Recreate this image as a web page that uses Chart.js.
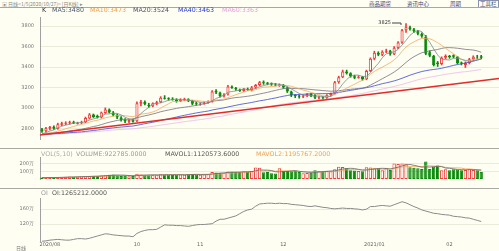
<!DOCTYPE html>
<html>
<head>
<meta charset="utf-8">
<script src="https://cdn.jsdelivr.net/npm/chart.js@4.4.1/dist/chart.umd.min.js"></script>
<style>
  body { margin: 0; width: 499px; height: 251px; overflow: hidden; position: relative; background: #fefef2; font-family: "DejaVu Sans", sans-serif; }
  canvas { position: absolute; left: 0; }
  .t { position: absolute; white-space: nowrap; }
  .lg { font-size: 6.3px; line-height: 7px; }
  .hr { position: absolute; left: 0; width: 499px; height: 1px; background: #a8a8a0; }
  .menu { position: absolute; top: 1px; font-size: 5.5px; line-height: 6px; color: #3c4a78; font-family: "Noto Sans CJK SC", sans-serif; }
</style>
</head>
<body>
<div class="t" style="left:2px;top:1px;font-size:5px;line-height:5px;color:#888;font-family:'Noto Sans CJK SC',sans-serif">▣ 日线&lt;1/5(2020/10/27)&gt; [日K线] ▸</div>
<div class="menu" style="left:369px">商品期货</div>
<div class="menu" style="left:407px">资讯中心</div>
<div class="menu" style="left:450px">周期</div>
<div class="menu" style="left:478px;top:0;border:1px solid #8890b0;padding:0 1px">工具栏</div>
<div class="hr" style="top:7px"></div>

<canvas id="kChart" width="499" height="140" style="top:8px"></canvas>
<canvas id="volChart" width="499" height="40" style="top:148px"></canvas>
<canvas id="oiChart" width="499" height="62" style="top:189px"></canvas>

<div class="hr" style="top:148px"></div>
<div class="hr" style="top:188px"></div>

<div class="t lg" style="left:42px;top:6px;color:#333">K</div>
<div class="t lg" style="left:52px;top:6px;color:#4b5a6b">MA5:3480</div>
<div class="t lg" style="left:90px;top:6px;color:#f0a050">MA10:3473</div>
<div class="t lg" style="left:133px;top:6px;color:#5a4a6a">MA20:3524</div>
<div class="t lg" style="left:178px;top:6px;color:#2a3ad0">MA40:3463</div>
<div class="t lg" style="left:222px;top:6px;color:#e8a0dc">MA60:3363</div>

<div class="t lg" style="left:41px;top:150px;color:#aaa">VOL(5,10)</div>
<div class="t lg" style="left:76px;top:150px;color:#999">VOLUME:922785.0000</div>
<div class="t lg" style="left:165px;top:150px;color:#555">MAVOL1:1120573.6000</div>
<div class="t lg" style="left:256px;top:150px;color:#f0a050">MAVOL2:1195767.2000</div>

<div class="t lg" style="left:41px;top:189px;color:#999">OI</div>
<div class="t lg" style="left:52px;top:189px;color:#555">OI:1265212.0000</div>

<div class="t" style="left:16px;top:245px;font-size:5px;line-height:6px;color:#777;font-family:'Noto Sans CJK SC',sans-serif">日线</div>

<script>
// daily candles, oldest first
const opens = [
  2790,2770,2795,2815,2795,2835,2845,2850,2860,2845,
  2855,2860,2895,2935,2920,2905,2950,2985,2955,2930,
  2905,2880,2865,2880,2870,3040,3060,3030,3015,3040,
  3055,3100,3095,3090,3080,3065,3075,3085,3070,3045,
  3035,3040,3050,3060,3165,3150,3115,3130,3210,3195,
  3180,3165,3185,3175,3200,3225,3250,3245,3240,3230,
  3215,3225,3200,3160,3125,3120,3110,3120,3135,3125,
  3095,3105,3095,3125,3140,3250,3300,3355,3340,3310,
  3295,3305,3280,3360,3480,3540,3520,3550,3560,3525,
  3590,3640,3760,3790,3770,3750,3725,3700,3545,3510,
  3445,3430,3490,3510,3515,3500,3445,3420,3440,3475,
  3500,3505
];
const highs = [
  2800,2810,2820,2825,2850,2860,2865,2870,2870,2860,
  2870,2910,2945,2940,2930,2960,3000,2990,2965,2940,
  2915,2895,2885,2890,3060,3075,3070,3045,3050,3065,
  3110,3120,3100,3100,3090,3090,3095,3090,3075,3055,
  3050,3060,3070,3170,3180,3155,3140,3220,3215,3200,
  3185,3190,3195,3210,3230,3260,3265,3250,3245,3240,
  3235,3230,3205,3165,3130,3125,3125,3140,3140,3130,
  3115,3110,3130,3145,3260,3310,3370,3370,3345,3320,
  3315,3310,3370,3490,3555,3550,3560,3575,3565,3600,
  3650,3770,3825,3800,3780,3760,3735,3710,3560,3515,
  3455,3500,3520,3515,3520,3505,3450,3450,3485,3510,
  3515,3515
];
const lows = [
  2760,2765,2785,2790,2790,2825,2835,2840,2845,2840,
  2845,2855,2890,2905,2900,2900,2945,2950,2920,2895,
  2870,2855,2855,2860,2865,3020,3030,3005,3010,3030,
  3050,3085,3075,3075,3055,3060,3070,3060,3030,3025,
  3025,3035,3045,3055,3140,3105,3105,3125,3190,3170,
  3160,3160,3170,3165,3190,3215,3230,3225,3220,3215,
  3210,3190,3150,3110,3100,3095,3100,3110,3110,3090,
  3085,3085,3090,3115,3135,3240,3295,3330,3300,3285,
  3290,3270,3275,3355,3470,3510,3510,3540,3515,3520,
  3580,3630,3740,3760,3740,3715,3690,3520,3500,3410,
  3405,3420,3480,3485,3490,3430,3420,3395,3430,3465,
  3480,3480
];
const closes = [
  2770,2800,2815,2795,2840,2850,2855,2860,2850,2855,
  2860,2900,2935,2910,2905,2955,2985,2955,2930,2905,
  2880,2870,2880,2865,3045,3060,3035,3015,3045,3055,
  3100,3090,3085,3080,3065,3080,3085,3070,3040,3035,
  3040,3050,3060,3160,3150,3115,3130,3210,3195,3180,
  3165,3185,3175,3200,3225,3250,3240,3235,3230,3220,
  3225,3200,3160,3120,3115,3110,3120,3135,3115,3100,
  3105,3095,3125,3140,3250,3300,3355,3340,3310,3295,
  3305,3280,3360,3480,3540,3520,3550,3560,3525,3590,
  3640,3760,3790,3770,3750,3725,3700,3530,3510,3420,
  3430,3490,3510,3495,3500,3440,3435,3440,3475,3500,
  3495,3490
];

const ma5 = [
  2746,2758,2773,2784,2804,2820,2831,2840,2851,2854,
  2856,2865,2880,2892,2902,2921,2938,2942,2946,2946,
  2931,2908,2893,2880,2908,2944,2977,3004,3040,3042,
  3050,3061,3075,3082,3084,3080,3079,3076,3068,3062,
  3054,3047,3045,3069,3092,3107,3123,3153,3160,3166,
  3176,3187,3180,3181,3190,3207,3218,3230,3236,3235,
  3230,3222,3207,3185,3164,3141,3125,3120,3119,3116,
  3115,3110,3108,3113,3143,3182,3234,3277,3311,3320,
  3321,3306,3310,3344,3393,3436,3490,3530,3539,3549,
  3573,3615,3661,3710,3742,3759,3747,3695,3643,3577,
  3518,3476,3472,3469,3485,3487,3476,3462,3458,3458,
  3469,3480
];
const ma10 = [
  2743,2749,2757,2762,2772,2783,2795,2807,2818,2829,
  2838,2848,2860,2872,2878,2889,2902,2911,2919,2924,
  2926,2923,2918,2913,2927,2938,2943,2949,2960,2975,
  2997,3019,3040,3061,3063,3065,3070,3076,3075,3073,
  3067,3063,3061,3069,3077,3081,3085,3099,3115,3129,
  3142,3155,3167,3171,3178,3192,3203,3205,3209,3213,
  3219,3220,3219,3211,3200,3186,3174,3164,3152,3140,
  3128,3118,3114,3116,3130,3149,3172,3193,3212,3232,
  3252,3270,3294,3328,3357,3379,3398,3420,3442,3471,
  3505,3553,3596,3625,3646,3666,3681,3678,3677,3660,
  3639,3612,3584,3556,3531,3503,3476,3467,3464,3472,
  3478,3478
];
const ma20 = [
  2742,2745,2748,2751,2756,2762,2767,2773,2779,2785,
  2791,2799,2808,2817,2825,2836,2848,2859,2868,2877,
  2882,2886,2889,2892,2903,2913,2922,2930,2940,2950,
  2962,2971,2979,2987,2995,3001,3006,3012,3018,3024,
  3032,3041,3050,3065,3070,3073,3078,3087,3095,3101,
  3104,3109,3114,3120,3128,3136,3144,3152,3162,3171,
  3180,3188,3193,3191,3189,3189,3188,3184,3180,3176,
  3173,3169,3166,3163,3165,3167,3173,3178,3182,3186,
  3190,3194,3204,3222,3243,3264,3285,3306,3327,3351,
  3378,3411,3445,3476,3501,3522,3540,3549,3559,3565,
  3572,3582,3590,3590,3588,3584,3579,3573,3570,3566,
  3558,3545
];
const ma40 = [
  2741,2742,2744,2746,2748,2751,2754,2757,2759,2762,
  2765,2769,2774,2778,2783,2788,2794,2799,2804,2808,
  2812,2815,2819,2822,2829,2837,2845,2852,2859,2867,
  2876,2885,2893,2902,2910,2919,2927,2935,2943,2950,
  2957,2963,2969,2979,2986,2993,3000,3009,3017,3025,
  3033,3040,3046,3053,3061,3069,3075,3082,3090,3097,
  3106,3114,3121,3128,3129,3131,3133,3136,3138,3139,
  3139,3139,3140,3141,3146,3152,3158,3165,3172,3178,
  3185,3191,3198,3206,3216,3226,3237,3245,3254,3264,
  3276,3290,3305,3320,3333,3345,3356,3364,3371,3376,
  3381,3388,3397,3406,3416,3424,3432,3439,3448,3458,
  3468,3478
];
const ma60 = [
  2741,2742,2743,2744,2745,2747,2749,2751,2753,2755,
  2757,2760,2763,2766,2768,2772,2776,2780,2783,2786,
  2788,2790,2792,2794,2800,2805,2810,2814,2819,2825,
  2831,2837,2842,2848,2853,2859,2865,2870,2875,2880,
  2885,2890,2896,2903,2910,2916,2922,2930,2938,2945,
  2952,2960,2967,2974,2983,2991,2999,3008,3016,3024,
  3031,3038,3044,3049,3054,3058,3063,3067,3072,3076,
  3080,3083,3086,3090,3096,3101,3108,3114,3120,3127,
  3134,3141,3149,3159,3167,3175,3184,3193,3201,3210,
  3219,3230,3241,3253,3264,3275,3285,3293,3301,3307,
  3314,3321,3329,3334,3340,3345,3351,3354,3359,3364,
  3370,3375
];
// hand drawn support line (left edge -> right edge)
const trendPrices = [2734, 3287];

// volume and open interest, in 万
const volumes = [
  18,20,22,18,24,22,30,33,28,30,
  33,36,40,40,38,45,50,55,58,50,
  40,42,35,38,67,58,50,48,52,55,
  62,58,55,52,55,58,55,62,65,58,
  55,58,62,91,86,82,80,95,95,92,
  90,98,95,103,150,145,88,91,75,72,
  140,103,103,100,103,91,75,78,80,115,
  103,100,103,100,127,160,155,140,115,112,
  103,100,152,150,140,140,115,140,118,200,
  195,200,198,152,145,140,130,229,130,164,
  176,115,127,115,127,125,115,118,127,118,
  115,92
];
const mavol5 = [
  18,18,19,19,20,21,23,25,27,29,
  31,32,33,36,37,40,43,46,49,52,
  51,49,45,41,44,48,50,52,55,53,
  53,55,56,56,56,56,55,56,59,60,
  59,60,60,65,70,76,80,87,88,89,
  90,94,94,96,107,118,116,115,110,94,
  93,96,99,104,110,100,94,89,85,88,
  90,95,100,104,107,118,129,136,139,136,
  125,114,116,123,129,136,139,137,131,143,
  154,171,182,189,178,167,153,159,155,159,
  166,163,142,139,132,122,122,120,122,121,
  119,114
];
const mavol10 = [
  18,18,19,19,19,20,21,22,23,25,
  26,28,29,32,33,35,37,40,43,45,
  45,46,45,45,48,49,49,49,48,49,
  51,52,54,56,55,55,55,56,58,58,
  57,57,58,62,65,67,70,73,76,80,
  83,87,90,92,98,104,105,105,103,101,
  106,106,107,107,102,97,95,94,95,99,
  95,95,95,95,97,104,112,118,122,122,
  122,122,126,131,133,131,127,127,127,136,
  145,155,160,160,160,160,162,171,172,168,
  166,158,151,147,145,144,142,131,131,126,
  120,118
];
const openInterest = [
  74,75,77,78,79,78,77,77,79,81,
  81,80,82,85,88,91,94,93,91,90,
  89,88,88,86,95,100,103,105,105,106,
  112,118,117,117,116,116,115,114,116,118,
  119,119,120,121,128,133,133,136,139,142,
  148,154,158,160,168,174,175,176,176,175,
  176,175,175,173,172,171,170,168,167,169,
  167,165,164,162,161,162,163,162,162,161,
  160,158,160,167,167,169,170,169,168,172,
  176,180,177,172,167,163,158,155,152,149,
  148,146,145,144,141,140,139,137,136,133,
  130,127
];

const priceTicks = [2800, 3000, 3200, 3400, 3600, 3800];
const volTicks = [100, 200];
const oiTicks = [120, 160];
const dateIdx = [2, 24, 40, 61, 84, 103];
const dateLabels = ['2020/08', '10', '11', '12', '2021/01', '02'];

const SLOTS = 116;
const BG = '#fefef2', UP = '#f23b3b', DOWN = '#0a8a0a';
const upDay = closes.map((c, i) => c >= opens[i]);
const pts = arr => arr.map((v, i) => ({x: i, y: v}));

function yAxis(min, max, ticks, fmt) {
  return {
    position: 'left', min, max,
    afterFit: s => { s.width = 40; },
    afterBuildTicks: s => { s.ticks = ticks.map(v => ({value: v})); },
    grid: {color: '#ebebd8', drawTicks: false},
    border: {display: true, color: '#a0a0a0'},
    ticks: {font: {size: 5, family: 'DejaVu Sans'}, color: '#777', padding: 6, callback: fmt}
  };
}
function xAxis(show) {
  return {
    type: 'linear', min: -0.5, max: SLOTS - 0.5, offset: false, display: show,
    afterFit: s => { s.height = 6; },
    afterBuildTicks: s => { s.ticks = dateIdx.map(v => ({value: v})); },
    grid: {display: false, drawTicks: false},
    border: {display: false},
    ticks: {font: {size: 5, family: 'DejaVu Sans'}, color: '#666', padding: 0, maxRotation: 0, autoSkip: false,
      callback: v => { const k = dateIdx.indexOf(v); return k < 0 ? '' : dateLabels[k]; }}
  };
}
const base = {
  responsive: false, animation: false, devicePixelRatio: 1, events: [],
  layout: {padding: 0},
  plugins: {legend: {display: false}, tooltip: {enabled: false}}
};
const line = (data, color, order, width) => ({
  type: 'line', data: pts(data), borderColor: color, borderWidth: width || 0.8,
  pointRadius: 0, tension: 0, order
});

// label for the highest high
const peakLabel = {
  id: 'peakLabel',
  afterDatasetsDraw(chart) {
    const top = Math.max(...highs), i = highs.indexOf(top);
    const {ctx, scales: {x, y}} = chart;
    const px = x.getPixelForValue(i), py = Math.round(y.getPixelForValue(top)) - 1.5;
    ctx.save();
    ctx.font = '5px "DejaVu Sans"';
    ctx.fillStyle = '#333';
    ctx.textAlign = 'right';
    ctx.textBaseline = 'middle';
    ctx.fillText(String(top), px - 15, py);
    ctx.strokeStyle = '#444';
    ctx.lineWidth = 1;
    ctx.beginPath();
    ctx.moveTo(px - 14, py + 0.5);
    ctx.lineTo(px - 5, py + 0.5);
    ctx.lineTo(px - 5, py + 2.5);
    ctx.stroke();
    ctx.restore();
  }
};

new Chart(document.getElementById('kChart'), {
  type: 'bar',
  data: {
    datasets: [
      {data: [{x: -0.5, y: trendPrices[0]}, {x: SLOTS - 0.5, y: trendPrices[1]}], type: 'line',
        borderColor: '#e42a2a', borderWidth: 1.5, pointRadius: 0, order: 0},
      line(ma5, '#7a8c8c', 1),
      line(ma10, '#f2aa60', 1),
      line(ma20, '#77707f', 1),
      line(ma40, '#3a48d8', 1),
      line(ma60, '#eeb8e8', 1),
      {data: opens.map((o, i) => ({x: i, y: [o, closes[i]]})),
        backgroundColor: upDay.map(u => u ? BG : DOWN), borderColor: upDay.map(u => u ? UP : DOWN),
        borderWidth: 1, borderSkipped: false, grouped: false, barPercentage: 0.8, categoryPercentage: 1, order: 2},
      {data: lows.map((l, i) => ({x: i, y: [l, highs[i]]})),
        backgroundColor: upDay.map(u => u ? UP : DOWN), borderWidth: 0, grouped: false, barThickness: 1, order: 3}
    ]
  },
  options: {...base, scales: {x: xAxis(false), y: yAxis(2695, 3890, priceTicks, v => String(v))}},
  plugins: [peakLabel]
});

new Chart(document.getElementById('volChart'), {
  type: 'bar',
  data: {
    datasets: [
      line(mavol5, '#666', 0),
      line(mavol10, '#f0a050', 0),
      {data: pts(volumes), backgroundColor: upDay.map(u => u ? BG : DOWN), borderColor: upDay.map(u => u ? UP : DOWN),
        borderWidth: 1, borderSkipped: false, barPercentage: 0.85, categoryPercentage: 1, order: 1}
    ]
  },
  options: {...base, scales: {x: xAxis(false), y: yAxis(0, 286, volTicks, v => v + '万')}}
});

new Chart(document.getElementById('oiChart'), {
  type: 'line',
  data: {datasets: [line(openInterest, '#8a8a8a', 0, 1)]},
  options: {...base, scales: {x: xAxis(true), y: yAxis(72, 190, oiTicks, v => v + '万')}}
});
</script>
</body>
</html>
